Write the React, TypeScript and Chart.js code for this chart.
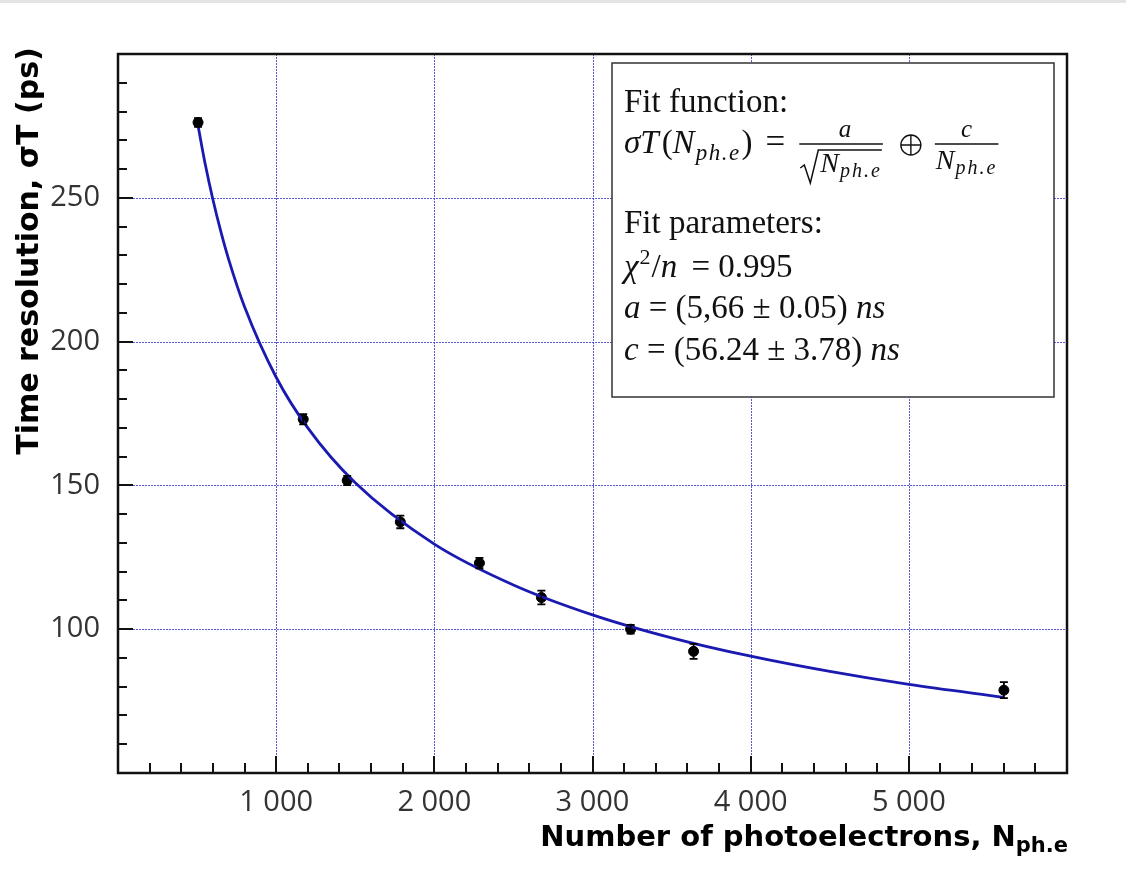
import { useEffect, useRef } from 'react';
import { Chart, registerables } from 'chart.js';

Chart.register(...registerables);

// Measured time resolution versus number of photoelectrons
const nPhotoelectrons = [506, 1171, 1449, 1785, 2285, 2677, 3241, 3639, 5601];
const timeResolution = [276.2, 173.0, 151.7, 137.3, 123.0, 111.0, 100.0, 92.3, 78.8];
const timeResolutionErr = [1.5, 1.8, 1.6, 2.2, 1.8, 2.4, 1.5, 2.6, 2.8];

// Fitted curve sampled along the measured range
const fitN = [506, 550, 600, 650, 700, 800, 1000, 1200, 1500, 2000, 2500, 3000, 3500, 4000, 4500, 5000, 5600];
const fitSigma = [275.1, 262.1, 249.4, 238.3, 228.5, 212.1, 187.6, 170.0, 150.9, 129.6, 115.4, 105.0, 97.0, 90.6, 85.3, 80.8, 76.3];

// Axis ticks
const xTickValues = [1000, 2000, 3000, 4000, 5000];
const yTickValues = [100, 150, 200, 250];
const xMinorStep = 200;
const yMinorStep = 10;

// Fit summary text
const fitFunctionTitle = 'Fit function:';
const fitParamsTitle = 'Fit parameters:';
const chi2Value = '0.995';
const paramA = '5,66 ± 0.05';
const paramC = '56.24 ± 3.78';

const xTitle = 'Number of photoelectrons, N';
const xTitleSub = 'ph.e';
const yTitle = 'Time resolution, σT (ps)';

const SERIF = '"Liberation Serif", "DejaVu Serif", serif';
const SANS = '"Open Sans", "Noto Sans", sans-serif';
const BOLD = '"DejaVu Sans", sans-serif';
const GRID_COLOR = 'rgba(60, 60, 205, 0.85)';

type Run = { t: string; it?: boolean; size?: number; dy?: number; dx?: number; ls?: number };

function runFont(r: Run, base: number) {
  return `${r.it ? 'italic ' : ''}${r.size ?? base}px ${SERIF}`;
}

function measureRuns(ctx: CanvasRenderingContext2D, runs: Run[], base: number) {
  let w = 0;
  for (const r of runs) {
    ctx.font = runFont(r, base);
    (ctx as any).letterSpacing = `${r.ls ?? 0}px`;
    w += (r.dx ?? 0) + ctx.measureText(r.t).width;
  }
  (ctx as any).letterSpacing = '0px';
  return w;
}

function drawRuns(ctx: CanvasRenderingContext2D, x: number, y: number, runs: Run[], base: number) {
  let cx = x;
  for (const r of runs) {
    ctx.font = runFont(r, base);
    (ctx as any).letterSpacing = `${r.ls ?? 0}px`;
    cx += r.dx ?? 0;
    ctx.fillText(r.t, cx, y + (r.dy ?? 0));
    cx += ctx.measureText(r.t).width;
  }
  (ctx as any).letterSpacing = '0px';
  return cx;
}

const fmtThousands = (v: number) => String(v).replace(/\B(?=(\d{3})+(?!\d))/g, ' ');

const decorations = {
  id: 'decorations',
  beforeDraw(chart: Chart) {
    const { ctx, width, height } = chart;
    ctx.save();
    ctx.fillStyle = '#ffffff';
    ctx.fillRect(0, 0, width, height);
    ctx.fillStyle = '#e4e4e4';
    ctx.fillRect(0, 0, width, 3);
    ctx.restore();
  },
  beforeDatasetsDraw(chart: Chart) {
    // dotted grid at the major ticks
    const { ctx, chartArea: a } = chart;
    const xs = chart.scales.x;
    const ys = chart.scales.y;
    ctx.save();
    ctx.strokeStyle = GRID_COLOR;
    ctx.lineWidth = 1;
    ctx.setLineDash([2, 1]);
    ctx.beginPath();
    for (const v of xTickValues) {
      const px = Math.round(xs.getPixelForValue(v)) + 0.5;
      ctx.moveTo(px, a.top);
      ctx.lineTo(px, a.bottom);
    }
    for (const v of yTickValues) {
      const py = Math.round(ys.getPixelForValue(v)) + 0.5;
      ctx.moveTo(a.left, py);
      ctx.lineTo(a.right, py);
    }
    ctx.stroke();
    ctx.restore();
  },
  afterDatasetsDraw(chart: Chart) {
    const { ctx } = chart;
    const xs = chart.scales.x;
    const ys = chart.scales.y;
    ctx.save();
    ctx.strokeStyle = '#000';
    ctx.lineWidth = 1.8;
    nPhotoelectrons.forEach((n, i) => {
      const px = xs.getPixelForValue(n);
      const top = ys.getPixelForValue(timeResolution[i] + timeResolutionErr[i]);
      const bot = ys.getPixelForValue(timeResolution[i] - timeResolutionErr[i]);
      ctx.beginPath();
      ctx.moveTo(px, top);
      ctx.lineTo(px, bot);
      ctx.moveTo(px - 4, top);
      ctx.lineTo(px + 4, top);
      ctx.moveTo(px - 4, bot);
      ctx.lineTo(px + 4, bot);
      ctx.stroke();
    });
    ctx.restore();
  },
  afterDraw(chart: Chart) {
    const { ctx, chartArea: a } = chart;
    const xs = chart.scales.x;
    const ys = chart.scales.y;
    ctx.save();

    // inward tick marks
    ctx.strokeStyle = '#111';
    ctx.lineWidth = 2;
    ctx.beginPath();
    for (let v = xMinorStep; v < (xs.max as number); v += xMinorStep) {
      const px = Math.round(xs.getPixelForValue(v));
      const len = v % 1000 === 0 ? 17 : 10;
      ctx.moveTo(px, a.bottom);
      ctx.lineTo(px, a.bottom - len);
    }
    for (let v = (ys.min as number) + yMinorStep; v < (ys.max as number); v += yMinorStep) {
      const py = Math.round(ys.getPixelForValue(v));
      const len = v % 50 === 0 ? 15 : 9;
      ctx.moveTo(a.left, py);
      ctx.lineTo(a.left + len, py);
    }
    ctx.stroke();

    // frame
    ctx.lineWidth = 2.5;
    ctx.strokeStyle = '#111';
    ctx.strokeRect(a.left, a.top, a.right - a.left, a.bottom - a.top);

    // fit summary box
    const bx = 612, by = 63, bw = 442, bh = 334;
    ctx.fillStyle = '#fff';
    ctx.fillRect(bx, by, bw, bh);
    ctx.lineWidth = 1.5;
    ctx.strokeStyle = '#333';
    ctx.strokeRect(bx, by, bw, bh);

    ctx.fillStyle = '#111';
    ctx.strokeStyle = '#111';
    ctx.textBaseline = 'alphabetic';
    ctx.textAlign = 'left';
    const base = 33;
    const tx = 624;
    ctx.font = `${base}px ${SERIF}`;
    ctx.fillText(fitFunctionTitle, tx, 112);

    // σT(N_ph.e) = a/√N_ph.e ⊕ c/N_ph.e
    const fy = 153;
    const cx = drawRuns(ctx, tx, fy, [
      { t: 'σ', it: true },
      { t: 'T', it: true },
      { t: '(', dx: 3 },
      { t: 'N', it: true },
      { t: 'ph.e', it: true, size: 23, dy: 7, ls: 1.5, dx: 1 },
      { t: ')', dx: 1 },
      { t: '=', dx: 13, size: 35 },
    ], base);
    const barY = 144;
    const denom: Run[] = [
      { t: 'N', it: true, size: 28 },
      { t: 'ph.e', it: true, size: 20, dy: 5, ls: 2, dx: 1 },
    ];
    const radW = 20;
    const dW = measureRuns(ctx, denom, base);
    const f1x = cx + 14;
    const f1w = radW + dW + 2;
    ctx.lineWidth = 1.4;
    ctx.beginPath();
    ctx.moveTo(f1x, barY);
    ctx.lineTo(f1x + f1w, barY);
    ctx.stroke();
    ctx.font = `italic 25px ${SERIF}`;
    const aW = ctx.measureText('a').width;
    ctx.fillText('a', f1x + f1w / 2 - aW / 2 + 4, 137);
    // radical sign
    const rx = f1x + 1;
    ctx.lineWidth = 1.5;
    ctx.beginPath();
    ctx.moveTo(rx, 168);
    ctx.lineTo(rx + 4, 165);
    ctx.lineTo(rx + 10, 183);
    ctx.lineTo(rx + 18, 150);
    ctx.lineTo(rx + radW + dW, 150);
    ctx.stroke();
    drawRuns(ctx, rx + radW, 172, denom, base);
    // ⊕
    const ox = f1x + f1w + 28;
    ctx.lineWidth = 1.4;
    ctx.beginPath();
    ctx.arc(ox, 145, 10, 0, Math.PI * 2);
    ctx.moveTo(ox - 10, 145);
    ctx.lineTo(ox + 10, 145);
    ctx.moveTo(ox, 135);
    ctx.lineTo(ox, 155);
    ctx.stroke();
    const f2x = ox + 24;
    const f2w = dW + 2;
    ctx.beginPath();
    ctx.moveTo(f2x, barY);
    ctx.lineTo(f2x + f2w, barY);
    ctx.stroke();
    ctx.font = `italic 25px ${SERIF}`;
    const cW = ctx.measureText('c').width;
    ctx.fillText('c', f2x + f2w / 2 - cW / 2, 137);
    drawRuns(ctx, f2x + 1, 169, denom, base);

    ctx.font = `${base}px ${SERIF}`;
    ctx.fillText(fitParamsTitle, tx, 233);
    drawRuns(ctx, tx, 277, [
      { t: 'χ', it: true },
      { t: '2', size: 22, dy: -13, dx: 1 },
      { t: '/', dx: 1 },
      { t: 'n', it: true },
      { t: ' = ' + chi2Value, dx: 6 },
    ], base);
    drawRuns(ctx, tx, 318, [
      { t: 'a', it: true },
      { t: ' = (' + paramA + ') ' },
      { t: 'ns', it: true },
    ], base);
    drawRuns(ctx, tx, 360, [
      { t: 'c', it: true },
      { t: ' = (' + paramC + ') ' },
      { t: 'ns', it: true },
    ], base);

    // axis titles
    ctx.fillStyle = '#000';
    ctx.font = `bold 29px ${BOLD}`;
    const mainW = ctx.measureText(xTitle).width;
    ctx.font = `bold 21px ${BOLD}`;
    const subW = ctx.measureText(xTitleSub).width;
    const xStart = a.right + 1 - mainW - subW;
    ctx.font = `bold 29px ${BOLD}`;
    ctx.fillText(xTitle, xStart, 846);
    ctx.font = `bold 21px ${BOLD}`;
    ctx.fillText(xTitleSub, xStart + mainW, 852);

    ctx.translate(38, 251);
    ctx.rotate(-Math.PI / 2);
    ctx.textAlign = 'center';
    ctx.font = `bold 30px ${BOLD}`;
    ctx.fillText(yTitle, 0, 0);
    ctx.restore();
  },
};

export default function App() {
  const ref = useRef<HTMLCanvasElement>(null);

  useEffect(() => {
    if (!ref.current) return;
    const chart = new Chart(ref.current, {
      type: 'scatter',
      data: {
        datasets: [
          {
            label: 'fit',
            data: fitN.map((n, i) => ({ x: n, y: fitSigma[i] })),
            showLine: true,
            borderColor: '#1a1ab0',
            borderWidth: 2.8,
            pointRadius: 0,
            cubicInterpolationMode: 'monotone',
          },
          {
            label: 'data',
            data: nPhotoelectrons.map((n, i) => ({ x: n, y: timeResolution[i] })),
            pointRadius: 5,
            pointBackgroundColor: '#000',
            pointBorderColor: '#000',
            borderColor: '#000',
          },
        ],
      },
      options: {
        responsive: false,
        animation: false,
        events: [],
        layout: { padding: { left: 0, top: 54, right: 59, bottom: 0 } },
        plugins: { legend: { display: false }, tooltip: { enabled: false } },
        scales: {
          x: {
            type: 'linear',
            min: 0,
            max: 6000,
            afterBuildTicks: (s: any) => {
              s.ticks = xTickValues.map((v) => ({ value: v }));
            },
            afterFit: (s: any) => {
              s.height = 96;
            },
            ticks: {
              autoSkip: false,
              maxRotation: 0,
              padding: 12,
              color: '#333',
              font: { family: SANS, size: 29 },
              callback: (v: any) => fmtThousands(Number(v)),
            },
            grid: { display: false, drawTicks: false },
            border: { display: false },
          },
          y: {
            type: 'linear',
            min: 50,
            max: 300,
            afterBuildTicks: (s: any) => {
              s.ticks = yTickValues.map((v) => ({ value: v }));
            },
            afterFit: (s: any) => {
              s.width = 118;
            },
            ticks: {
              padding: 18,
              color: '#333',
              font: { family: SANS, size: 29 },
            },
            grid: { display: false, drawTicks: false },
            border: { display: false },
          },
        },
      },
      plugins: [decorations],
    });
    return () => chart.destroy();
  }, []);

  return (
    <div style={{ position: 'absolute', left: 0, top: 0, width: 1126, height: 869, background: '#fff' }}>
      <canvas ref={ref} width={1126} height={869} style={{ display: 'block' }} />
    </div>
  );
}
